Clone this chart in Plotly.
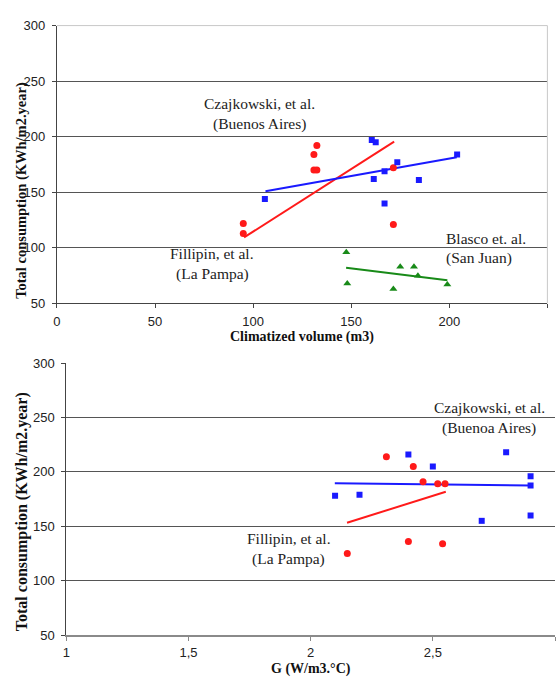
import plotly.graph_objects as go

# ---- Top panel: consumption vs climatized volume ----
vol_czaj_x = [106, 160.5, 162.5, 161.5, 167, 173.5, 167, 184.5, 204]
vol_czaj_y = [144, 197, 195, 162, 169, 177, 140, 161, 184]
vol_fill_x = [95, 95, 131, 132.5, 131, 132.5, 171.5, 171.5]
vol_fill_y = [122, 113, 184, 192, 170, 170, 172, 121]
vol_blasco_x = [147.5, 148, 171.5, 175, 182, 184, 199]
vol_blasco_y = [96, 68, 63, 83, 83, 75, 67]

vol_czaj_trend_x = [106.3, 203.8]
vol_czaj_trend_y = [150.9, 181.5]
vol_fill_trend_x = [95.4, 171.9]
vol_fill_trend_y = [109.4, 195.6]
vol_blasco_trend_x = [147.4, 199]
vol_blasco_trend_y = [82, 70.8]

vol_ticks = [0, 50, 100, 150, 200, 250]
cons_ticks = [50, 100, 150, 200, 250, 300]

# ---- Bottom panel: consumption vs G coefficient ----
g_czaj_x = [2.10, 2.20, 2.40, 2.50, 2.70, 2.80, 2.90, 2.90, 2.90]
g_czaj_y = [178, 179, 216, 205, 155, 218, 196, 187.5, 160]
g_fill_x = [2.31, 2.42, 2.46, 2.52, 2.55, 2.40, 2.54, 2.15]
g_fill_y = [214, 205, 191, 189, 189, 136, 134, 125]

g_czaj_trend_x = [2.099, 2.901]
g_czaj_trend_y = [189.6, 187.5]
g_fill_trend_x = [2.149, 2.553]
g_fill_trend_y = [153.2, 181.8]

g_ticks = [1, 1.5, 2, 2.5, 3]
g_tick_text = ["1", "1,5", "2", "2,5", "3"]

W, H = 558, 691
RED = "#ff1a1a"
BLUE = "#1a1aff"
GREEN = "#188a18"
SERIF = "Liberation Serif"
SANS = "Liberation Sans"


def px_x(p):
    return p / W


def px_y(p):
    return 1 - p / H


fig = go.Figure()


def markers(x, y, color, symbol, size, xa, ya):
    fig.add_trace(go.Scatter(x=x, y=y, mode="markers", xaxis=xa, yaxis=ya,
                             marker=dict(color=color, symbol=symbol, size=size,
                                         line=dict(width=0)),
                             showlegend=False, hoverinfo="x+y"))


def trend(x, y, color, xa, ya):
    fig.add_trace(go.Scatter(x=x, y=y, mode="lines", xaxis=xa, yaxis=ya,
                             line=dict(color=color, width=2),
                             showlegend=False, hoverinfo="skip"))


trend(vol_fill_trend_x, vol_fill_trend_y, RED, "x", "y")
trend(vol_czaj_trend_x, vol_czaj_trend_y, BLUE, "x", "y")
trend(vol_blasco_trend_x, vol_blasco_trend_y, GREEN, "x", "y")
markers(vol_fill_x, vol_fill_y, RED, "circle", 7, "x", "y")
markers(vol_czaj_x, vol_czaj_y, BLUE, "square", 6, "x", "y")
markers(vol_blasco_x, vol_blasco_y, GREEN, "triangle-up", 7, "x", "y")

trend(g_fill_trend_x, g_fill_trend_y, RED, "x2", "y2")
trend(g_czaj_trend_x, g_czaj_trend_y, BLUE, "x2", "y2")
markers(g_fill_x, g_fill_y, RED, "circle", 7, "x2", "y2")
markers(g_czaj_x, g_czaj_y, BLUE, "square", 6, "x2", "y2")

tick_font = dict(family=SANS, size=13, color="#222")

common_y = dict(range=[50, 300], tickvals=cons_ticks, ticks="outside", ticklen=4,
                tickcolor="#444", showline=True, linecolor="#444", linewidth=1,
                showgrid=True, gridcolor="#555", gridwidth=1, zeroline=False,
                tickfont=tick_font, ticklabelstandoff=4, fixedrange=True)

fig.update_layout(
    width=W, height=H, margin=dict(l=0, r=0, t=0, b=0),
    paper_bgcolor="white", plot_bgcolor="white",
    font=dict(family=SANS),
    xaxis=dict(domain=[px_x(53.3), px_x(547.3)], anchor="y", range=[0, 250],
               tickvals=vol_ticks, ticks="outside", ticklen=4, tickcolor="#444",
               showline=True, linecolor="#444", linewidth=1, showgrid=False,
               zeroline=False, tickfont=tick_font, ticklabelstandoff=2, fixedrange=True),
    yaxis=dict(domain=[px_y(303), px_y(19)], anchor="x", **common_y),
    xaxis2=dict(domain=[px_x(62.7), px_x(555)], anchor="y2", range=[1, 3],
                tickvals=g_ticks, ticktext=g_tick_text, ticks="outside", ticklen=4,
                tickcolor="#888", showline=True, linecolor="#8a8a8a", linewidth=1.5,
                showgrid=False, zeroline=False, tickfont=tick_font,
                ticklabelstandoff=1, fixedrange=True),
    yaxis2=dict(domain=[px_y(642), px_y(364)], anchor="x2", **common_y),
)

# light frame on the top and right of the upper plot area
fig.add_shape(type="line", xref="x domain", yref="y domain", x0=0, x1=1, y0=1, y1=1,
              line=dict(color="#c8c8c8", width=1), layer="above")
fig.add_shape(type="line", xref="x domain", yref="y domain", x0=1, x1=1, y0=0, y1=1,
              line=dict(color="#c8c8c8", width=1), layer="above")

label_font = dict(family=SERIF, size=15.5, color="#222")


def note(text, x, y, anchor="center", font=label_font, angle=0):
    fig.add_annotation(text=text, xref="paper", yref="paper", x=px_x(x), y=px_y(y),
                       xanchor=anchor, yanchor="middle", showarrow=False,
                       font=font, textangle=angle)


note("Czajkowski, et al.", 257, 99)
note("(Buenos Aires)", 257, 120)
note("Fillipin, et al.", 210, 252)
note("(La Pampa)", 210, 273)
note("Blasco et. al.", 443, 237, anchor="left")
note("(San Juan)", 443, 257, anchor="left")

note("Czajkowski, et al.", 489, 409)
note("(Buenoa Aires)", 489, 430)
note("Fillipin, et al.", 287, 543)
note("(La Pampa)", 287, 564)

title_top = dict(family=SERIF, size=14.5, color="#111")
title_bot = dict(family=SERIF, size=16, color="#111")
title_x = dict(family=SERIF, size=14, color="#111")
note("<b>Total consumption (KWh/m2.year)</b>", 18, 187, font=title_top, angle=-90)
note("<b>Climatized volume (m3)</b>", 300, 337, font=title_x)
note("<b>Total consumption (KWh/m2.year)</b>", 17.5, 516, font=title_bot, angle=-90)
note("<b>G (W/m3.°C)</b>", 309, 677, font=title_x)

fig.write_html("out.html")
